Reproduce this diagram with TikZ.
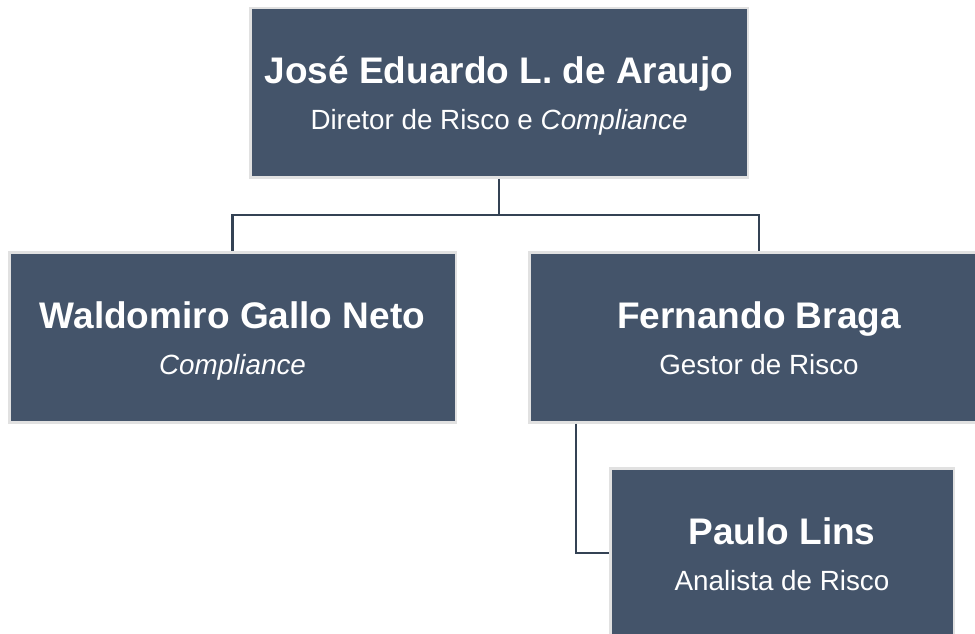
\documentclass[tikz,border=0pt]{standalone}
\usepackage{fontspec}
\setmainfont{Liberation Sans}
\usetikzlibrary{positioning, calc}
\definecolor{cardfill}{RGB}{68,84,106}
\definecolor{cardedge}{RGB}{225,225,225}
\definecolor{linkcol}{RGB}{52,66,84}
\newcommand{\namefont}{\fontsize{37}{46}\selectfont\bfseries\rule{0pt}{34pt}}
\newcommand{\rolefont}{\fontsize{27.8}{46}\selectfont}
\newcommand{\roleline}[1]{\rule[-6pt]{0pt}{6pt}#1}

\begin{document}
\begin{tikzpicture}[x=1pt, y=1pt,
  card/.style={rectangle, fill=cardfill, draw=cardedge, line width=2.5pt, text=white,
    align=center, inner sep=0pt, minimum height=169.5pt, font=\rolefont},
  link/.style={draw=linkcol, line width=2.6pt}]
\useasboundingbox (0,0) rectangle (975,633);
\clip (0,0) rectangle (975,633);

% Director
\node[card, minimum width=497.5pt] (director) at (499,540)
  {{\namefont José Eduardo L. de Araujo}\\\roleline{Diretor de Risco e \textit{Compliance}}};

% Compliance
\node[card, minimum width=446.5pt] (waldomiro) at (232.5,295.5)
  {{\namefont Waldomiro Gallo Neto}\\\roleline{\textit{Compliance}}};

% Risco
\node[card, minimum width=459.5pt] (fernando) at (759,295.5)
  {{\namefont Fernando Braga}\\\roleline{Gestor de Risco}};
\node[card, minimum width=343.5pt] (paulo) at (782,80)
  {{\namefont Paulo Lins}\\\roleline{Analista de Risco}};

% Links
\coordinate (split) at ([yshift=-36pt]director.south);
\draw[link] (director.south) -- (split) -| (waldomiro.north);
\draw[link] (split) -| (fernando.north);
\draw[link] ([xshift=48pt]fernando.south west) |- (paulo.west);
\end{tikzpicture}
\end{document}
